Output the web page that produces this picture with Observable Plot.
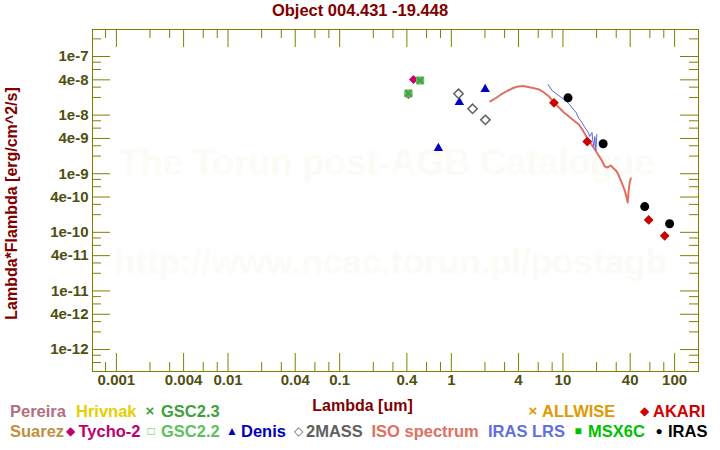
<!DOCTYPE html>
<html><head><meta charset="utf-8">
<script src="https://cdn.jsdelivr.net/npm/d3@7"></script>
<script src="https://cdn.jsdelivr.net/npm/@observablehq/plot@0.6"></script>
<style>
body{margin:0;background:#fff;font-family:"Liberation Sans",Arial,sans-serif;}
#wrap{position:relative;width:720px;height:450px;overflow:hidden;background:#fff;}
#title{position:absolute;left:0;top:0;width:720px;text-align:center;font-weight:bold;font-size:16.5px;color:#800000;line-height:20px;}
.lg{position:absolute;font-weight:bold;font-size:16.5px;line-height:20px;white-space:nowrap;}
.sym{position:absolute;font-size:12px;line-height:20px;transform:translateX(-50%);}
#chart{position:absolute;left:0;top:0;}
</style></head>
<body>
<div id="wrap">
<div id="chart"></div>
<div id="title">Object 004.431 -19.448</div>
<div id="legend"></div>
</div>
<script>
// ---- axis ticks ----
const xTickValues = [0.001, 0.004, 0.01, 0.04, 0.1, 0.4, 1, 4, 10, 40, 100];
const xTickLabels = ["0.001", "0.004", "0.01", "0.04", "0.1", "0.4", "1", "4", "10", "40", "100"];
const xMinorTicks = [8e-4, 2e-3, 3e-3, 6e-3, 8e-3, 2e-2, 3e-2, 6e-2, 8e-2, 0.2, 0.3, 0.6, 0.8, 2, 3, 6, 8, 20, 30, 60, 80];
const yTickValues = [1e-7, 4e-8, 1e-8, 4e-9, 1e-9, 4e-10, 1e-10, 4e-11, 1e-11, 4e-12, 1e-12];
const yTickLabels = ["1e-7", "4e-8", "1e-8", "4e-9", "1e-9", "4e-10", "1e-10", "4e-11", "1e-11", "4e-12", "1e-12"];
const yMinorTicks = [2e-7, 8e-8, 6e-8, 3e-8, 2e-8, 8e-9, 6e-9, 3e-9, 2e-9, 8e-10, 6e-10, 3e-10, 2e-10,
  8e-11, 6e-11, 3e-11, 2e-11, 8e-12, 6e-12, 3e-12, 2e-12, 8e-13, 6e-13];
const xDomain = [6.11e-4, 163.7];
const yDomain = [4.22e-13, 2.89e-7];

// ---- photometry ----
const tychoLambda = [0.413, 0.458];
const tychoFlux = [2.25e-8, 4.05e-8];
const gsc22Lambda = [0.413, 0.526];
const gsc22Flux = [2.34e-8, 3.9e-8];
const gsc23Lambda = [0.413, 0.526];
const gsc23Flux = [2.34e-8, 3.9e-8];
const denisLambda = [0.766, 1.18, 2.01];
const denisFlux = [2.72e-9, 1.66e-8, 2.77e-8];
const twomassLambda = [1.16, 1.55, 2.02];
const twomassFlux = [2.31e-8, 1.28e-8, 8.3e-9];
const akariLambda = [8.31, 16.5, 58.6, 81.5];
const akariFlux = [1.62e-8, 3.54e-9, 1.63e-10, 8.71e-11];
const irasLambda = [11.1, 22.9, 54.0, 90.2];
const irasFlux = [1.97e-8, 3.24e-9, 2.75e-10, 1.40e-10];

// ---- spectra ----
const isoLambda = [2.23, 2.47, 2.79, 3.16, 3.58, 3.96, 4.40, 4.87, 5.40, 6.11, 6.76, 7.50, 8.31, 9.21, 10.2, 11.3,
  12.5, 13.9, 15.1, 16.4, 17.8, 19.3, 20.9, 22.3, 23.7, 25.2, 26.8, 28.5, 30.3, 31.6, 33.0, 34.4, 35.8, 37.3, 38.0, 38.8, 39.6, 40.5];
const isoFlux = [1.71e-8, 1.92e-8, 2.25e-8, 2.58e-8, 2.90e-8, 3.08e-8, 3.14e-8, 3.02e-8, 2.90e-8, 2.74e-8, 2.43e-8,
  2.08e-8, 1.64e-8, 1.35e-8, 1.11e-8, 9.47e-9, 8.09e-9, 6.91e-9, 5.46e-9, 4.15e-9, 3.28e-9, 2.59e-9, 2.05e-9,
  1.68e-9, 1.33e-9, 1.28e-9, 1.38e-9, 1.23e-9, 1.09e-9, 9.31e-10, 7.66e-10, 6.29e-10, 5.17e-10, 3.78e-10, 3.23e-10,
  5.17e-10, 7.08e-10, 8.28e-10];
const lrsLambda = [7.35, 7.98, 8.67, 9.40, 10.2, 11.1, 12.0, 13.1, 13.9, 14.8, 15.7, 16.7, 17.4, 18.2, 18.5, 18.9, 19.3, 19.7, 20.1];
const lrsFlux = [3.33e-8, 2.63e-8, 2.34e-8, 2.08e-8, 1.85e-8, 1.64e-8, 1.35e-8, 1.11e-8, 8.75e-9, 7.48e-9, 6.14e-9,
  5.25e-9, 4.31e-9, 5.05e-9, 3.69e-9, 2.91e-9, 4.31e-9, 2.49e-9, 4.67e-9];

const zip = (a, b) => a.map((v, i) => ({x: v, y: b[i]}));
const olive = "#808000";
const tickText = "#4f4f12";
const font = "Liberation Sans, Arial, sans-serif";

const W = 720, H = 450, mT = 29, mR = 22, mB = 79, mL = 92;
const fw = W - mL - mR, fh = H - mT - mB;
const long = 18, short = 9;

const plot = Plot.plot({
  width: W, height: H,
  marginTop: mT, marginRight: mR, marginBottom: mB, marginLeft: mL,
  style: {fontFamily: font, background: "transparent"},
  x: {type: "log", domain: xDomain, axis: null},
  y: {type: "log", domain: yDomain, axis: null},
  marks: [
    Plot.text(["The Torun post-AGB Catalogue"], {text: d => d, frameAnchor: "top", dy: 134, dx: -9, fill: "#fcfbf6", fontSize: 36, fontWeight: "bold", lineAnchor: "middle"}),
    Plot.text(["http://www.ncac.torun.pl/postagb"], {text: d => d, frameAnchor: "top", dy: 233, dx: -5, fill: "#fcfbf6", fontSize: 35, fontWeight: "bold", lineAnchor: "middle"}),
    Plot.frame({stroke: olive}),
    // inward ticks on all four sides
    Plot.tickX(xMinorTicks, {x: d => d, insetTop: fh - short, stroke: olive}),
    Plot.tickX(xTickValues, {x: d => d, insetTop: fh - long, stroke: olive}),
    Plot.tickX(xMinorTicks, {x: d => d, insetBottom: fh - short, stroke: olive}),
    Plot.tickX(xTickValues, {x: d => d, insetBottom: fh - long, stroke: olive}),
    Plot.tickY(yMinorTicks, {y: d => d, insetRight: fw - short, stroke: olive}),
    Plot.tickY(yTickValues, {y: d => d, insetRight: fw - long, stroke: olive}),
    Plot.tickY(yMinorTicks, {y: d => d, insetLeft: fw - short, stroke: olive}),
    Plot.tickY(yTickValues, {y: d => d, insetLeft: fw - long, stroke: olive}),
    // tick labels
    Plot.text(xTickValues, {x: d => d, text: (d, i) => xTickLabels[i], frameAnchor: "bottom", lineAnchor: "top", dy: 3,
      fill: tickText, fontSize: 15, fontWeight: "bold"}),
    Plot.text(yTickValues, {y: d => d, text: (d, i) => yTickLabels[i], frameAnchor: "left", textAnchor: "end", lineAnchor: "middle", dx: -4,
      fill: tickText, fontSize: 15, fontWeight: "bold"}),
    Plot.text(["Lambda [um]"], {text: d => d, frameAnchor: "bottom", textAnchor: "middle", lineAnchor: "middle", dy: 34, dx: -33, fill: "#800000", fontSize: 16, fontWeight: "bold"}),
    Plot.text(["Lambda*Flambda [erg/cm^2/s]"], {text: d => d, frameAnchor: "left", textAnchor: "middle", lineAnchor: "middle", rotate: -90, dx: -81, dy: 3, fill: "#800000", fontSize: 16, fontWeight: "bold"}),
    // spectra
    Plot.line(zip(isoLambda, isoFlux), {x: "x", y: "y", stroke: "#e07060", strokeWidth: 2}),
    Plot.line(zip(lrsLambda, lrsFlux), {x: "x", y: "y", stroke: "#5a6ae0", strokeWidth: 1}),
    // photometry
    Plot.dot(zip(tychoLambda, tychoFlux), {x: "x", y: "y", symbol: "diamond2", r: 4, fill: "#c8006a"}),
    Plot.dot(zip(gsc22Lambda, gsc22Flux), {x: "x", y: "y", symbol: "square", r: 4, fill: "#58b858", stroke: "#60c060", strokeWidth: 1}),
    Plot.dot(zip(gsc23Lambda, gsc23Flux), {x: "x", y: "y", symbol: "times", r: 3, stroke: "#40a040", strokeWidth: 1.5}),
    Plot.dot(zip(denisLambda, denisFlux), {x: "x", y: "y", symbol: "triangle", r: 3.5, fill: "#0000c8"}),
    Plot.dot(zip(twomassLambda, twomassFlux), {x: "x", y: "y", symbol: "diamond2", r: 4.2, fill: "none", stroke: "#606060", strokeWidth: 1.5}),
    Plot.dot(zip(akariLambda, akariFlux), {x: "x", y: "y", symbol: "diamond2", r: 4.4, fill: "#c80000"}),
    Plot.dot(zip(irasLambda, irasFlux), {x: "x", y: "y", symbol: "circle", r: 4.5, fill: "#000"})
  ]
});
document.getElementById("chart").appendChild(plot);

// ---- legend ----
const legendRow1 = [
  {t: "Pereira", x: 10, c: "#b07080"},
  {t: "Hrivnak", x: 76, c: "#e6cf00"},
  {s: "×", x: 150, c: "#40a040"}, {t: "GSC2.3", x: 161, c: "#40a040"},
  {s: "×", x: 533, c: "#e09a00"}, {t: "ALLWISE", x: 542, c: "#e09a00"},
  {s: "◆", x: 644, c: "#d00000"}, {t: "AKARI", x: 653, c: "#d00000"}
];
const legendRow2 = [
  {t: "Suarez", x: 10, c: "#c09040"},
  {s: "◆", x: 70.5, c: "#c0006a"}, {t: "Tycho-2", x: 78.5, c: "#c0006a"},
  {s: "□", x: 151, c: "#60c060"}, {t: "GSC2.2", x: 161, c: "#60c060"},
  {s: "▲", x: 232, c: "#0000c0"}, {t: "Denis", x: 241, c: "#0000c0"},
  {s: "◇", x: 298, c: "#606060"}, {t: "2MASS", x: 306, c: "#606060"},
  {t: "ISO spectrum", x: 371.5, c: "#e07060"},
  {t: "IRAS LRS", x: 488, c: "#6070e0"},
  {s: "■", x: 578, c: "#00c000"}, {t: "MSX6C", x: 588, c: "#00c000"},
  {s: "●", x: 659, c: "#000000"}, {t: "IRAS", x: 668, c: "#000000"}
];
const lg = document.getElementById("legend");
[[legendRow1, 401], [legendRow2, 421]].forEach(([row, top]) => {
  row.forEach(it => {
    const el = document.createElement("span");
    el.className = it.s ? "sym" : "lg";
    el.textContent = it.s || it.t;
    el.style.left = it.x + "px";
    el.style.top = top + "px";
    el.style.color = it.c;
    if (it.s === "×") { el.style.fontSize = "15px"; el.style.fontWeight = "bold"; }
    lg.appendChild(el);
  });
});
</script>
</body></html>
